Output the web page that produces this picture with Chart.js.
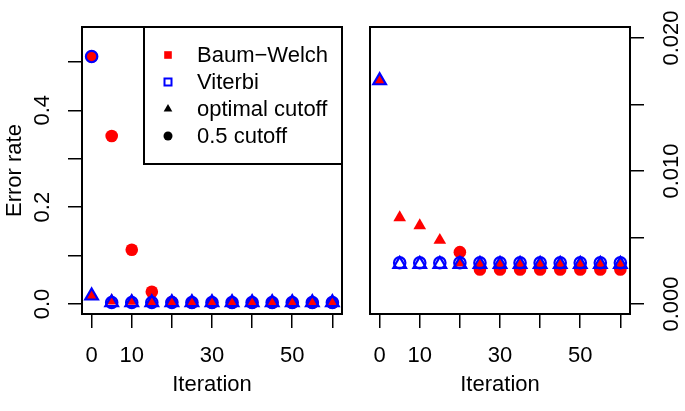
<!DOCTYPE html>
<html><head><meta charset="utf-8">
<script src="https://cdn.jsdelivr.net/npm/chart.js@4.4.1/dist/chart.umd.min.js"></script>
<style>
html,body{margin:0;padding:0;background:#fff;}
#wrap{position:relative;width:685px;height:411px;background:#fff;}
canvas{position:absolute;left:0;top:0;}
</style></head><body>
<div id="wrap"><canvas id="c1" width="685" height="411"></canvas><canvas id="c2" width="685" height="411"></canvas></div>
<script>
// ---- data ----
const iterations = [0, 5, 10, 15, 20, 25, 30, 35, 40, 45, 50, 55, 60];
const bwHalfCutoff = [0.511, 0.347, 0.112, 0.0254, 0.0039, 0.0026, 0.0026, 0.0026, 0.0026, 0.0026, 0.0026, 0.0026, 0.0026];
const bwOptimalCutoff = [0.0168, 0.0065, 0.0059, 0.0048, 0.0031, 0.0029, 0.0029, 0.0029, 0.0029, 0.0029, 0.0029, 0.0029, 0.0029];
const vitHalfCutoff = [0.511, 0.0031, 0.0031, 0.0031, 0.0031, 0.0031, 0.0031, 0.0031, 0.0031, 0.0031, 0.0031, 0.0031, 0.0031];
const vitOptimalCutoff = [0.0168, 0.0030, 0.0030, 0.0030, 0.0030, 0.0030, 0.0030, 0.0030, 0.0030, 0.0030, 0.0030, 0.0030, 0.0030];
const xTicks = [0, 10, 20, 30, 40, 50, 60];
const xTickLabels = ['0', '10', '', '30', '', '50', ''];
const leftYTicks = [0, 0.1, 0.2, 0.3, 0.4, 0.5];
const leftYTickLabels = ['0.0', '', '0.2', '', '0.4', ''];
const rightYTicks = [0, 0.005, 0.01, 0.015, 0.02];
const rightYTickLabels = ['0.000', '', '0.010', '', '0.020'];
const legendLabels = ['Baum\u2212Welch', 'Viterbi', 'optimal cutoff', '0.5 cutoff'];

const FONT = '"Liberation Sans", Arial, Helvetica, sans-serif';
const RED = '#FF0000', BLUE = '#0000FF';

function pts(arr) { return iterations.map((x, i) => ({ x: x, y: arr[i] })); }

function datasets() {
  return [
    { label: 'Viterbi optimal', data: pts(vitOptimalCutoff), pointStyle: 'triangle', pointRadius: 7.3, pointBorderWidth: 2.2, borderColor: BLUE, pointBorderColor: BLUE, pointBackgroundColor: 'rgba(0,0,0,0)' },
    { label: 'Viterbi 0.5', data: pts(vitHalfCutoff), pointStyle: 'circle', pointRadius: 5.7, pointBorderWidth: 2.2, borderColor: BLUE, pointBorderColor: BLUE, pointBackgroundColor: 'rgba(0,0,0,0)' },
    { label: 'BW optimal', data: pts(bwOptimalCutoff), pointStyle: 'triangle', pointRadius: 7.3, pointBorderWidth: 0, pointBorderColor: RED, pointBackgroundColor: RED },
    { label: 'BW 0.5', data: pts(bwHalfCutoff), pointStyle: 'circle', pointRadius: 6.3, pointBorderWidth: 0, pointBorderColor: RED, pointBackgroundColor: RED }
  ];
}

const boxPlugin = {
  id: 'boxAndLabels',
  afterDraw(chart, args, opts) {
    const ctx = chart.ctx, ca = chart.chartArea;
    ctx.save();
    ctx.strokeStyle = '#000';
    ctx.lineWidth = 2;
    ctx.strokeRect(ca.left, ca.top, ca.right - ca.left, ca.bottom - ca.top);
    // rotated y tick labels
    const ys = chart.scales.y;
    ctx.fillStyle = '#000';
    ctx.font = '22px ' + FONT;
    ctx.textAlign = 'center';
    ctx.textBaseline = 'middle';
    opts.ticks.forEach((v, i) => {
      const lab = opts.labels[i];
      if (!lab) return;
      ctx.save();
      ctx.translate(opts.labelX, ys.getPixelForValue(v));
      ctx.rotate(-Math.PI / 2);
      ctx.fillText(lab, 0, 0);
      ctx.restore();
    });
    if (opts.legend) {
      const lx = 144, ly = ca.top, lw = ca.right - 144, lh = 164 - ca.top;
      ctx.fillStyle = '#fff';
      ctx.fillRect(lx, ly, lw, lh);
      ctx.strokeStyle = '#000';
      ctx.lineWidth = 2;
      ctx.strokeRect(lx, ly, lw, lh);
      const mx = 168, rows = [55, 82, 109, 136];
      // markers
      ctx.fillStyle = RED;
      ctx.fillRect(mx - 3.8, rows[0] - 3.8, 7.6, 7.6);
      ctx.strokeStyle = BLUE; ctx.lineWidth = 2;
      ctx.strokeRect(mx - 3.5, rows[1] - 3.5, 7, 7);
      ctx.fillStyle = '#000';
      const r = 5;
      ctx.beginPath();
      ctx.moveTo(mx, rows[2] - r);
      ctx.lineTo(mx + 0.866 * r * 1.0, rows[2] + 0.5 * r);
      ctx.lineTo(mx - 0.866 * r * 1.0, rows[2] + 0.5 * r);
      ctx.closePath();
      ctx.fill();
      ctx.beginPath();
      ctx.arc(mx, rows[3], 4.5, 0, Math.PI * 2);
      ctx.fill();
      ctx.fillStyle = '#000';
      ctx.textAlign = 'left';
      ctx.textBaseline = 'middle';
      legendLabels.forEach((t, i) => ctx.fillText(t, 197, rows[i] + 1));
    }
    ctx.restore();
  }
};

function makeChart(id, side) {
  const left = side === 'left';
  const yTicks = left ? leftYTicks : rightYTicks;
  const yLabels = left ? leftYTickLabels : rightYTickLabels;
  return new Chart(document.getElementById(id), {
    type: 'scatter',
    data: { datasets: datasets() },
    plugins: [boxPlugin],
    options: {
      responsive: false,
      animation: false,
      events: [],
      layout: { padding: left ? { left: 0, top: 27, right: 343, bottom: 0 } : { left: 370, top: 27, right: 0, bottom: 0 } },
      plugins: {
        legend: { display: false },
        tooltip: { enabled: false },
        boxAndLabels: { ticks: yTicks, labels: yLabels, labelX: left ? 43 : 672, legend: left }
      },
      scales: {
        x: {
          type: 'linear', min: -2.4, max: 62.4,
          afterBuildTicks: s => { s.ticks = xTicks.map(v => ({ value: v })); },
          afterFit: s => { s.height = 97; },
          ticks: { autoSkip: false, maxRotation: 0, minRotation: 0, padding: 15, color: '#000', font: { family: FONT, size: 22 },
                   callback: v => xTickLabels[xTicks.indexOf(v)] },
          grid: { drawOnChartArea: false, drawTicks: true, tickLength: 14, color: '#000', lineWidth: 1.5 },
          border: { display: false },
          title: { display: true, text: 'Iteration', color: '#000', font: { family: FONT, size: 22 }, padding: { top: 0, bottom: 12.8 } }
        },
        y: {
          type: 'linear', position: left ? 'left' : 'right',
          min: left ? -0.0207 : -0.00075, max: left ? 0.572 : 0.02083,
          afterBuildTicks: s => { s.ticks = yTicks.map(v => ({ value: v })); },
          afterFit: s => { s.width = left ? 82 : 55; },
          ticks: { display: false },
          grid: { drawOnChartArea: false, drawTicks: true, tickLength: 14, color: '#000', lineWidth: 1.5 },
          border: { display: false },
          title: { display: left, text: 'Error rate', color: '#000', font: { family: FONT, size: 22 }, padding: { top: 1.8, bottom: 0 } }
        }
      }
    }
  });
}
makeChart('c1', 'left');
makeChart('c2', 'right');
</script>
</body></html>
